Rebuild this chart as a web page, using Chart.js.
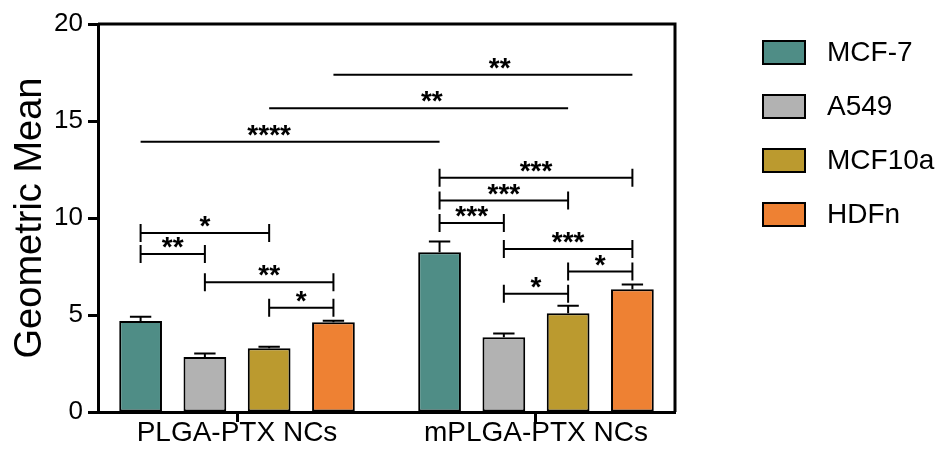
<!DOCTYPE html>
<html lang="en">
<head>
<meta charset="UTF-8">
<title>Geometric Mean</title>
<script src="https://cdn.jsdelivr.net/npm/chart.js"></script>
<style>
  html, body { margin: 0; padding: 0; background: #fff; }
</style>
</head>
<body>
<canvas id="chart" width="951" height="454"></canvas>
<script>
// --- data ---
const groups = ['PLGA-PTX NCs', 'mPLGA-PTX NCs'];
const cellLines = ['MCF-7', 'A549', 'MCF10a', 'HDFn'];
const colors = ['#4f8d86', '#b2b2b2', '#bb9a2f', '#ee8133'];

const mcf7 = [4.69, 8.24];
const a549 = [2.83, 3.85];
const mcf10a = [3.29, 5.09];
const hdfn = [4.62, 6.33];

const mcf7Err = [0.22, 0.55];
const a549Err = [0.19, 0.20];
const mcf10aErr = [0.07, 0.39];
const hdfnErr = [0.09, 0.24];

const yTicks = [0, 5, 10, 15, 20];

// within-group brackets: group, from series, to series, height, stars
const brackets = [
  [0, 0, 2, 9.23, '*'],
  [0, 0, 1, 8.14, '**'],
  [0, 1, 3, 6.69, '**'],
  [0, 2, 3, 5.38, '*'],
  [1, 0, 3, 12.07, '***'],
  [1, 0, 2, 10.90, '***'],
  [1, 0, 1, 9.74, '***'],
  [1, 1, 3, 8.40, '***'],
  [1, 2, 3, 7.24, '*'],
  [1, 1, 2, 6.09, '*']
];
// lines between groups: series, height, stars
const crossLines = [
  [0, 13.93, '****'],
  [2, 15.66, '**'],
  [3, 17.38, '**']
];
const crossLabelAt = [0.43, 0.544, 0.556];

const seriesValues = [mcf7, a549, mcf10a, hdfn];
const seriesErrors = [mcf7Err, a549Err, mcf10aErr, hdfnErr];

const FONT = "'Liberation Sans', Arial, Helvetica, sans-serif";

// error bars (upper only, like the original)
const errorBars = {
  id: 'errorBars',
  afterDatasetsDraw(chart) {
    const ctx = chart.ctx, y = chart.scales.y;
    ctx.save();
    ctx.strokeStyle = '#000';
    ctx.lineWidth = 2;
    seriesValues.forEach((vals, d) => {
      chart.getDatasetMeta(d).data.forEach((bar, i) => {
        const top = y.getPixelForValue(vals[i] + seriesErrors[d][i]);
        const half = bar.width / 4;
        ctx.beginPath();
        ctx.moveTo(bar.x, bar.y);
        ctx.lineTo(bar.x, top);
        ctx.moveTo(bar.x - half, top);
        ctx.lineTo(bar.x + half, top);
        ctx.stroke();
      });
    });
    ctx.restore();
  }
};

// significance brackets and stars
const significance = {
  id: 'significance',
  afterDatasetsDraw(chart) {
    const ctx = chart.ctx, y = chart.scales.y;
    const barX = (d, g) => chart.getDatasetMeta(d).data[g].x;
    ctx.save();
    ctx.strokeStyle = '#000';
    ctx.fillStyle = '#000';
    ctx.lineWidth = 2;
    ctx.font = 'bold 28px ' + FONT;
    ctx.textAlign = 'center';
    ctx.textBaseline = 'alphabetic';

    brackets.forEach(([g, a, b, v, stars]) => {
      const x1 = barX(a, g), x2 = barX(b, g), py = y.getPixelForValue(v);
      ctx.beginPath();
      ctx.moveTo(x1, py); ctx.lineTo(x2, py);
      ctx.moveTo(x1, py - 9); ctx.lineTo(x1, py + 9);
      ctx.moveTo(x2, py - 9); ctx.lineTo(x2, py + 9);
      ctx.stroke();
      ctx.fillText(stars, (x1 + x2) / 2, py + 2);
    });

    crossLines.forEach(([s, v, stars], k) => {
      const x1 = barX(s, 0), x2 = barX(s, 1), py = y.getPixelForValue(v);
      ctx.beginPath();
      ctx.moveTo(x1, py); ctx.lineTo(x2, py);
      ctx.stroke();
      ctx.fillText(stars, x1 + (x2 - x1) * crossLabelAt[k], py + 2);
    });
    ctx.restore();
  }
};

// top and right edges of the box
const frame = {
  id: 'frame',
  afterDraw(chart) {
    const {ctx, chartArea: a} = chart;
    ctx.save();
    ctx.strokeStyle = '#000';
    ctx.lineWidth = 3;
    ctx.beginPath();
    ctx.moveTo(a.left, a.top);
    ctx.lineTo(a.right, a.top);
    ctx.lineTo(a.right, a.bottom);
    ctx.stroke();
    ctx.restore();
  }
};

// legend on the right
const sideLegend = {
  id: 'sideLegend',
  afterDraw(chart) {
    const ctx = chart.ctx;
    ctx.save();
    ctx.font = '28px ' + FONT;
    ctx.textBaseline = 'middle';
    ctx.textAlign = 'left';
    chart.data.datasets.forEach((ds, i) => {
      const top = 41 + i * 54;
      ctx.fillStyle = ds.backgroundColor;
      ctx.fillRect(763, top, 42, 23);
      ctx.strokeStyle = '#000';
      ctx.lineWidth = 2;
      ctx.strokeRect(763, top, 42, 23);
      ctx.fillStyle = '#000';
      ctx.fillText(ds.label, 827, top + 12);
    });
    ctx.restore();
  }
};

new Chart(document.getElementById('chart'), {
  type: 'bar',
  data: {
    datasets: cellLines.map((name, d) => ({
      label: name,
      data: seriesValues[d].map((v, i) => ({x: i, y: v})),
      backgroundColor: colors[d],
      borderColor: '#000',
      borderWidth: 2,
      borderSkipped: false,
      categoryPercentage: 0.86,
      barPercentage: 0.665
    }))
  },
  options: {
    responsive: false,
    animation: false,
    layout: { padding: { top: 24, right: 276, bottom: 0, left: 0 } },
    plugins: { legend: { display: false }, tooltip: { enabled: false } },
    scales: {
      x: {
        type: 'linear',
        offset: false,
        min: -0.465,
        max: 1.465,
        afterBuildTicks: s => { s.ticks = groups.map((_, i) => ({ value: i })); },
        afterFit: s => { s.height = 42; },
        ticks: {
          callback: v => groups[v],
          autoSkip: false,
          maxRotation: 0,
          padding: -6,
          color: '#000',
          font: { family: FONT, size: 28 }
        },
        grid: { offset: false, drawOnChartArea: false, drawTicks: true, tickLength: 10, tickWidth: 3, tickColor: '#000' },
        border: { display: true, color: '#000', width: 3 }
      },
      y: {
        min: 0,
        max: 20,
        afterBuildTicks: s => { s.ticks = yTicks.map(v => ({ value: v })); },
        afterFit: s => { s.width = 98; },
        ticks: { padding: 5, color: '#000', font: { family: FONT, size: 26 } },
        grid: { drawOnChartArea: false, drawTicks: true, tickLength: 10, tickWidth: 3, tickColor: '#000' },
        border: { display: true, color: '#000', width: 3 },
        title: {
          display: true,
          text: 'Geometric Mean',
          color: '#000',
          font: { family: FONT, size: 38 },
          padding: { top: 8, bottom: 0 }
        }
      }
    }
  },
  plugins: [errorBars, significance, frame, sideLegend]
});
</script>
</body>
</html>
